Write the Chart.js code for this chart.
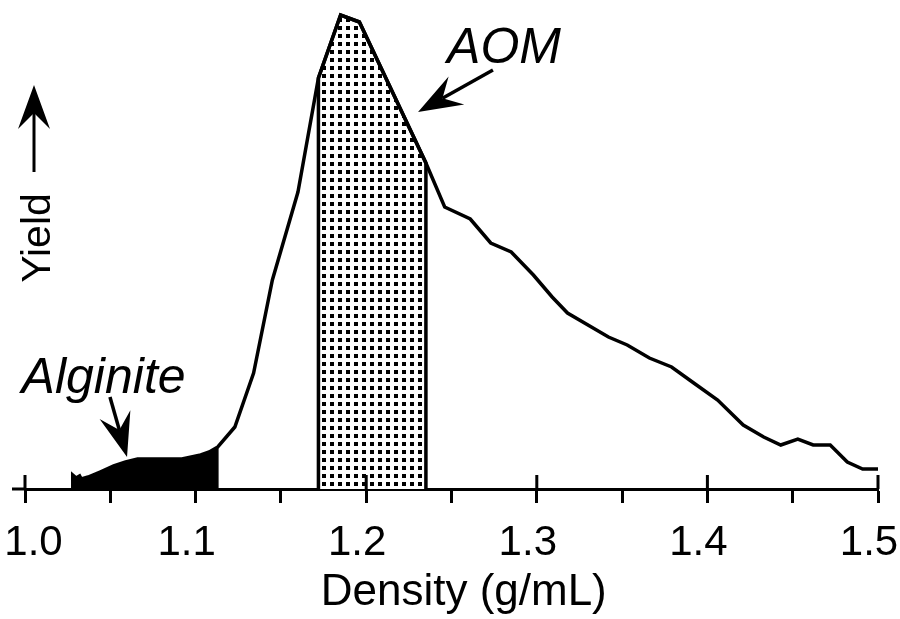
<!DOCTYPE html>
<html>
<head>
<meta charset="utf-8">
<title>Yield vs density</title>
<script src="https://cdn.jsdelivr.net/npm/chart.js@4.4.1/dist/chart.umd.min.js"></script>
<style>
  html, body { margin: 0; padding: 0; background: #fff; }
  canvas { display: block; }
</style>
</head>
<body>
<canvas id="grafico" width="900" height="619"></canvas>
<script>
// Density (g/mL) and yield (arbitrary units)
const density = [1.028, 1.028, 1.030, 1.032, 1.033, 1.037, 1.044, 1.052, 1.059, 1.066,
                 1.079, 1.092, 1.103, 1.108, 1.113, 1.123, 1.134, 1.145, 1.160, 1.172,
                 1.185, 1.196, 1.235, 1.246, 1.261, 1.273, 1.285, 1.298, 1.309, 1.318,
                 1.342, 1.353, 1.366, 1.379, 1.392, 1.406, 1.421, 1.433, 1.443, 1.453,
                 1.462, 1.472, 1.482, 1.491, 1.500];
const yieldValues = [0, 14, 11, 13, 10, 12, 17, 23, 27, 30,
                     30, 30, 34, 37, 42, 62, 116, 209, 297, 411,
                     474, 467, 326, 282, 270, 246, 237, 214, 192, 176,
                     152, 144, 131, 122, 106, 89, 64, 52, 44, 50,
                     44, 44, 27, 20, 20];
const tickLabels = ['1.0', '1.1', '1.2', '1.3', '1.4', '1.5'];
const alginiteRange = [1.028, 1.113];
const aomRange = [1.172, 1.235];

const FONT = '"Liberation Sans", Arial, Helvetica, sans-serif';

// points of the curve inside a density range, closed down to zero on both sides
function sliceCurve(range) {
    const pts = [];
    density.forEach((d, i) => {
        if (d >= range[0] && d <= range[1]) pts.push({ x: d, y: yieldValues[i] });
    });
    return [{ x: range[0], y: 0 }, ...pts, { x: range[1], y: 0 }];
}

function stipple(ctx) {
    const tile = document.createElement('canvas');
    tile.width = 8;
    tile.height = 8;
    const g = tile.getContext('2d');
    g.fillStyle = '#fff';
    g.fillRect(0, 0, 8, 8);
    g.fillStyle = '#000';
    g.fillRect(2, 2, 4, 4);
    return ctx.createPattern(tile, 'repeat');
}

function arrow(ctx, x0, y0, x1, y1) {
    const len = Math.hypot(x1 - x0, y1 - y0);
    const ux = (x1 - x0) / len, uy = (y1 - y0) / len;
    const head = 44, half = 16, notch = 28;
    const bx = x1 - ux * head, by = y1 - uy * head;
    const nx = x1 - ux * notch, ny = y1 - uy * notch;
    ctx.beginPath();
    ctx.moveTo(x0, y0);
    ctx.lineTo(nx, ny);
    ctx.stroke();
    ctx.beginPath();
    ctx.moveTo(x1, y1);
    ctx.lineTo(bx - uy * half, by + ux * half);
    ctx.lineTo(nx, ny);
    ctx.lineTo(bx + uy * half, by - ux * half);
    ctx.closePath();
    ctx.fill();
}

const annotations = {
    id: 'annotations',
    afterDraw(chart) {
        const { ctx, chartArea, scales: { x, y } } = chart;
        const bottom = chartArea.bottom;
        ctx.save();
        ctx.strokeStyle = '#000';
        ctx.fillStyle = '#000';
        ctx.lineWidth = 3;

        // axis runs a little left of 1.0, major ticks also cross above it
        ctx.beginPath();
        ctx.moveTo(12, bottom);
        ctx.lineTo(chartArea.left, bottom);
        tickLabels.forEach(t => {
            const px = x.getPixelForValue(parseFloat(t));
            ctx.moveTo(px, bottom - 14);
            ctx.lineTo(px, bottom);
        });
        ctx.stroke();

        // y "axis": just a label and an arrow
        ctx.lineWidth = 3;
        arrow(ctx, 34, 172, 34, 85);
        ctx.save();
        ctx.translate(39, 238);
        ctx.rotate(-Math.PI / 2);
        ctx.font = '41px ' + FONT;
        ctx.textAlign = 'center';
        ctx.textBaseline = 'middle';
        ctx.fillText('Yield', 0, 0);
        ctx.restore();

        // labels pointing at the fractions
        ctx.lineWidth = 3.5;
        ctx.font = 'italic 50px ' + FONT;
        ctx.textAlign = 'left';
        ctx.textBaseline = 'alphabetic';
        ctx.fillText('AOM', x.getPixelForValue(1.2474), y.getPixelForValue(426));
        arrow(ctx, x.getPixelForValue(1.2743), y.getPixelForValue(419),
                   x.getPixelForValue(1.2304), y.getPixelForValue(377));
        ctx.fillText('Alginite', x.getPixelForValue(0.998), y.getPixelForValue(96));
        arrow(ctx, x.getPixelForValue(1.0498), y.getPixelForValue(92),
                   x.getPixelForValue(1.0598), y.getPixelForValue(32));
        ctx.restore();
    }
};

const canvas = document.getElementById('grafico');
const ctx = canvas.getContext('2d');

new Chart(canvas, {
    type: 'line',
    data: {
        datasets: [
            {
                label: 'Yield',
                data: density.map((d, i) => ({ x: d, y: yieldValues[i] })),
                borderColor: '#000',
                borderWidth: 3.5,
                fill: false,
                pointRadius: 0,
                tension: 0,
                order: 0
            },
            {
                label: 'AOM',
                data: sliceCurve(aomRange),
                borderColor: '#000',
                borderWidth: 3.5,
                backgroundColor: stipple(ctx),
                fill: 'origin',
                pointRadius: 0,
                tension: 0,
                order: 1
            },
            {
                label: 'Alginite',
                data: sliceCurve(alginiteRange),
                borderColor: '#000',
                borderWidth: 1,
                backgroundColor: '#000',
                fill: 'origin',
                pointRadius: 0,
                tension: 0,
                order: 2
            }
        ]
    },
    options: {
        responsive: false,
        animation: false,
        events: [],
        layout: { padding: { left: 25, right: 22, top: 9, bottom: 0 } },
        plugins: {
            legend: { display: false },
            tooltip: { enabled: false }
        },
        scales: {
            x: {
                type: 'linear',
                min: 1.0,
                max: 1.5,
                border: { display: true, color: '#000', width: 3 },
                grid: { drawOnChartArea: false, drawTicks: true, tickLength: 14, tickWidth: 3, tickColor: '#000' },
                ticks: {
                    stepSize: 0.05,
                    autoSkip: false,
                    maxRotation: 0,
                    minRotation: 0,
                    labelOffset: -9,
                    padding: 15,
                    color: '#000',
                    font: { family: FONT, size: 42 },
                    callback: (value) => {
                        const k = Math.round((value - 1) * 20);
                        if (k % 2) return '';
                        const label = tickLabels[k / 2];
                        return k === 0 ? '   ' + label : label;
                    }
                },
                title: {
                    display: true,
                    text: '  Density (g/mL)',
                    color: '#000',
                    font: { family: FONT, size: 44 },
                    padding: { top: 0, bottom: 0 }
                },
                afterFit: (scale) => {
                    scale.paddingLeft = 0;
                    scale.paddingRight = 0;
                    scale.height = 130;
                }
            },
            y: { display: false, min: 0, max: 480 }
        }
    },
    plugins: [annotations]
});
</script>
</body>
</html>
